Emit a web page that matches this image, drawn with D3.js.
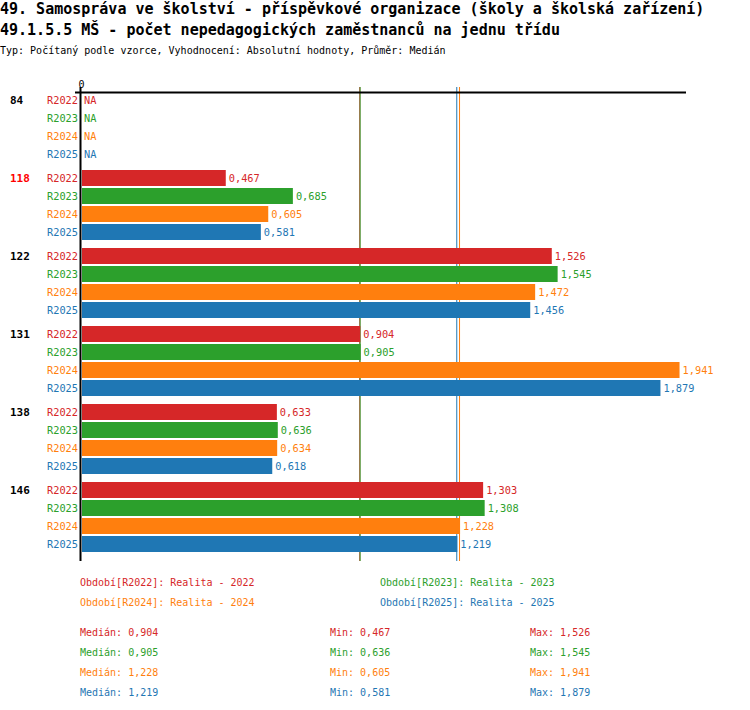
<!DOCTYPE html>
<html><head><meta charset="utf-8">
<script src="https://cdn.jsdelivr.net/npm/d3@7"></script>
<style>
body{margin:0;background:#fff;}
text{font-family:"DejaVu Sans Mono",monospace;}
</style></head>
<body><svg id="c" width="750" height="710"></svg>
<script>
const title1 = "49. Samospráva ve školství - příspěvkové organizace (školy a školská zařízení)";
const title2 = "49.1.5.5 MŠ - počet nepedagogických zaměstnanců na jednu třídu";
const subtitle = "Typ: Počítaný podle vzorce, Vyhodnocení: Absolutní hodnoty, Průměr: Medián";
const groups = ["84", "118", "122", "131", "138", "146"];
const highlighted = "118";
const series = ["R2022", "R2023", "R2024", "R2025"];
const seriesNames = ["Realita - 2022", "Realita - 2023", "Realita - 2024", "Realita - 2025"];
const colors = ["#d62728", "#2ca02c", "#ff7f0e", "#1f77b4"];
const v2022 = [null, 0.467, 1.526, 0.904, 0.633, 1.303];
const v2023 = [null, 0.685, 1.545, 0.905, 0.636, 1.308];
const v2024 = [null, 0.605, 1.472, 1.941, 0.634, 1.228];
const v2025 = [null, 0.581, 1.456, 1.879, 0.618, 1.219];
const values = [v2022, v2023, v2024, v2025];
const axisTicks = [0];

const loc = d3.formatLocale({decimal: ",", thousands: " ", grouping: [3], currency: ["", ""]});
const fmt = loc.format(".3f");

const svg = d3.select("#c");
svg.append("text").attr("x", 0).attr("y", 14).attr("font-size", 15).attr("font-weight", "bold").text(title1);
svg.append("text").attr("x", 0).attr("y", 35).attr("font-size", 15).attr("font-weight", "bold").text(title2);
svg.append("text").attr("x", 0).attr("y", 54).attr("font-size", 10).text(subtitle);

const x = d3.scaleLinear().domain([0, 1.962]).range([82, 686]);
const gy = d3.scaleBand().domain(groups).range([92, 560]);
const sy = d3.scaleBand().domain(series).range([0, 70]).paddingInner(2 / 18);

// median lines (behind bars)
const medians = values.map(v => d3.median(v.filter(d => d != null)));
const mins = values.map(v => d3.min(v.filter(d => d != null)));
const maxs = values.map(v => d3.max(v.filter(d => d != null)));
medians.forEach((m, i) => {
  svg.append("line").attr("x1", x(m) - 0.5).attr("x2", x(m) - 0.5).attr("y1", 87).attr("y2", 561)
    .attr("stroke", colors[i]).attr("stroke-width", 1);
});

// axis
const ax = svg.append("g").attr("transform", "translate(0,92)")
  .call(d3.axisTop(x).tickValues(axisTicks).tickFormat(d3.format("d")).tickSize(0).tickPadding(4));
ax.select(".domain").remove();
ax.selectAll("text").attr("font-family", "DejaVu Sans Mono").attr("font-size", 10).attr("fill", "#000").attr("x", -1);
svg.append("line").attr("x1", 75).attr("x2", 686).attr("y1", 92.5).attr("y2", 92.5).attr("stroke", "#000").attr("stroke-width", 2);
svg.append("line").attr("x1", 80.5).attr("x2", 80.5).attr("y1", 87).attr("y2", 561).attr("stroke", "#000").attr("stroke-width", 2);

groups.forEach((g, gi) => {
  const g0 = gy(g);
  svg.append("text").attr("x", 10).attr("y", g0 + sy.bandwidth() / 2).attr("dy", "0.35em")
    .attr("font-size", 11).attr("font-weight", "bold")
    .attr("fill", g === highlighted ? "#ff0000" : "#000").text(g);
  series.forEach((s, si) => {
    const v = values[si][gi];
    const yy = g0 + sy(s);
    const cy = yy + sy.bandwidth() / 2;
    svg.append("text").attr("x", 78).attr("y", cy).attr("dy", "0.35em").attr("text-anchor", "end")
      .attr("font-size", 10.3).attr("fill", colors[si]).text(s);
    if (v == null) {
      svg.append("text").attr("x", 84).attr("y", cy).attr("dy", "0.35em")
        .attr("font-size", 10.3).attr("fill", colors[si]).text("NA");
    } else {
      svg.append("rect").attr("x", x(0)).attr("y", yy).attr("width", x(v) - x(0)).attr("height", sy.bandwidth())
        .attr("fill", colors[si]);
      svg.append("text").attr("x", x(v) + 3).attr("y", cy).attr("dy", "0.35em")
        .attr("font-size", 10.3).attr("fill", colors[si]).text(fmt(v));
    }
  });
});

// legend
series.forEach((s, i) => {
  svg.append("text").attr("x", i % 2 === 0 ? 80 : 380).attr("y", 582 + Math.floor(i / 2) * 20).attr("dy", "0.35em")
    .attr("font-size", 10).attr("fill", colors[i]).text("Období[" + s + "]: " + seriesNames[i]);
});
// stats
series.forEach((s, i) => {
  const yy = 632 + i * 20;
  svg.append("text").attr("x", 80).attr("y", yy).attr("dy", "0.35em").attr("font-size", 10).attr("fill", colors[i]).text("Medián: " + fmt(medians[i]));
  svg.append("text").attr("x", 330).attr("y", yy).attr("dy", "0.35em").attr("font-size", 10).attr("fill", colors[i]).text("Min: " + fmt(mins[i]));
  svg.append("text").attr("x", 530).attr("y", yy).attr("dy", "0.35em").attr("font-size", 10).attr("fill", colors[i]).text("Max: " + fmt(maxs[i]));
});
</script></body></html>
